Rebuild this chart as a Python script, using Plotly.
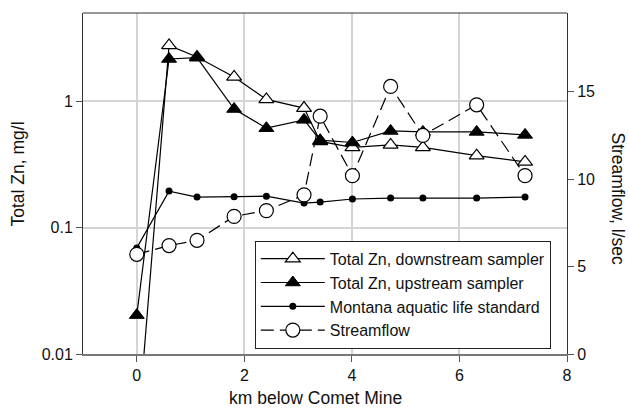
import plotly.graph_objects as go

# Distances (km below Comet Mine)
km_down = [0.0, 0.6, 1.12, 1.81, 2.41, 3.11, 3.41, 4.01, 4.72, 5.32, 6.32, 7.22]
zn_down = [0.002, 2.75, 2.23, 1.55, 1.03, 0.88, 0.48, 0.43, 0.45, 0.43, 0.37, 0.33]

km_up = [0.0, 0.6, 1.12, 1.81, 2.41, 3.11, 3.41, 4.01, 4.72, 5.32, 6.32, 7.22]
zn_up = [0.0203, 2.15, 2.2, 0.865, 0.61, 0.71, 0.49, 0.47, 0.58, 0.57, 0.57, 0.54]

km_std = [0.0, 0.6, 1.12, 1.81, 2.41, 3.11, 3.41, 4.01, 4.72, 5.32, 6.32, 7.22]
zn_std = [0.069, 0.194, 0.174, 0.175, 0.177, 0.156, 0.159, 0.168, 0.171, 0.171, 0.171, 0.174]

km_flow = [0.0, 0.6, 1.12, 1.81, 2.41, 3.11, 3.41, 4.01, 4.72, 5.32, 6.32, 7.22]
flow = [5.7, 6.2, 6.5, 7.87, 8.2, 9.1, 13.6, 10.2, 15.3, 12.5, 14.25, 10.2]

x_ticks = [0, 2, 4, 6, 8]
y_ticks = [0.01, 0.1, 1]
y_ticktext = ["0.01", "0.1", "1"]
y2_ticks = [0, 5, 10, 15]

FONT = "Liberation Sans, Arial, sans-serif"

fig = go.Figure()
fig.add_trace(go.Scatter(
    x=km_down, y=zn_down, mode="lines+markers", name="Total Zn, downstream sampler",
    line=dict(color="black", width=1.2),
    marker=dict(symbol="triangle-up", size=13, color="white", line=dict(color="black", width=1.2)),
))
fig.add_trace(go.Scatter(
    x=km_up, y=zn_up, mode="lines+markers", name="Total Zn, upstream sampler",
    line=dict(color="black", width=1.2),
    marker=dict(symbol="triangle-up", size=13, color="black", line=dict(color="black", width=1)),
))
fig.add_trace(go.Scatter(
    x=km_std, y=zn_std, mode="lines+markers", name="Montana aquatic life standard",
    line=dict(color="black", width=1.2),
    marker=dict(symbol="circle", size=7, color="black"),
))
fig.add_trace(go.Scatter(
    x=km_flow, y=flow, mode="lines+markers", name="Streamflow", yaxis="y2",
    line=dict(color="black", width=1.2, dash="13px,6px"),
    marker=dict(symbol="circle", size=14, color="white", line=dict(color="black", width=1.2)),
))

title_font = dict(size=17.5, family=FONT, color="#111")

fig.update_layout(
    width=629, height=410,
    margin=dict(l=83, r=62, t=13, b=56, autoexpand=False),
    paper_bgcolor="white", plot_bgcolor="white",
    font=dict(family=FONT, size=16, color="#111"),
    showlegend=True,
    legend=dict(
        x=0.355, y=0.332, xanchor="left", yanchor="top",
        bgcolor="white", bordercolor="#222", borderwidth=1,
        font=dict(size=16), itemwidth=64, tracegroupgap=0,
    ),
    xaxis=dict(
        range=[-1, 8], tickvals=x_ticks, showgrid=True, gridcolor="#d4d4d4", gridwidth=1.5,
        showline=True, linecolor="#777", linewidth=2, ticks="outside", ticklen=6,
        tickcolor="#555", zeroline=False, automargin=False,
    ),
    yaxis=dict(
        type="log", range=[-2, 0.696], tickvals=y_ticks, ticktext=y_ticktext,
        showgrid=True, gridcolor="#d4d4d4", gridwidth=1.5,
        showline=True, linecolor="#333", linewidth=1, ticks="outside", ticklen=6,
        tickcolor="#555", zeroline=False, automargin=False,
    ),
    yaxis2=dict(
        overlaying="y", side="right", range=[0, 19.5], tickvals=y2_ticks,
        showgrid=False, showline=True, linecolor="#333", linewidth=1,
        ticks="outside", ticklen=6, tickcolor="#555", zeroline=False, automargin=False,
    ),
    shapes=[dict(type="line", xref="paper", yref="paper", x0=0, x1=1, y0=1, y1=1,
                 line=dict(color="#333", width=1))],
    annotations=[
        dict(text="Streamflow, l/sec", xref="paper", yref="paper", x=1, y=0.5,
             xanchor="center", yanchor="middle", xshift=51, yshift=-15, textangle=90,
             showarrow=False, font=title_font),
        dict(text="Total Zn, mg/l", xref="paper", yref="paper", x=0, y=0.5,
             xanchor="center", yanchor="middle", xshift=-66, yshift=9, textangle=-90,
             showarrow=False, font=title_font),
        dict(text="km below Comet Mine", xref="paper", yref="paper", x=0.5, y=0,
             xanchor="center", yanchor="middle", xshift=-10, yshift=-44,
             showarrow=False, font=title_font),
    ],
)

fig.write_html("out.html")
